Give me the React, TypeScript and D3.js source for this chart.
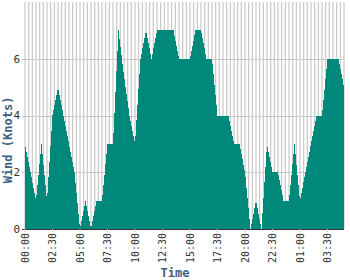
import React from "react";
import * as d3 from "d3";

// Wind speed (knots), sampled every 30 minutes starting 00:00
const values: number[] = [
  3, 2, 1, 3, 1, 4, 5, 4, 3, 2, 0, 1, 0, 1, 1, 3, 3, 7, 5.4, 4,
  3, 6, 7, 6, 7, 7, 7, 7, 6, 6, 6, 7, 7, 6, 6, 4, 4, 4, 3, 3,
  2, 0, 1, 0, 3, 2, 2, 1, 1, 3, 1, 2, 3, 4, 4, 6, 6, 6, 5,
];
const stepMinutes = 30;
const gridMinutes = 20;
const tickLabels = ["00:00", "02:30", "05:00", "07:30", "10:00", "12:30", "15:00", "17:30", "20:00", "22:30", "01:00", "03:30"];
const tickEveryMinutes = 150;
const yTicks = [0, 2, 4, 6];
const yLabel = "Wind (Knots)";
const xLabel = "Time";

const W = 350;
const H = 280;
const M = { left: 25, right: 6, top: 2, bottom: 51 };

export default function App() {
  const t0 = new Date(2020, 0, 1, 0, 0).getTime();
  const data = values.map((v, i) => ({ t: new Date(t0 + i * stepMinutes * 60000), v }));
  const tEnd = data[data.length - 1].t;

  const x = d3.scaleTime().domain([data[0].t, tEnd]).range([M.left, W - M.right]);
  const y = d3.scaleLinear().domain([0, 8]).range([H - M.bottom, M.top]);

  const area = d3
    .area<{ t: Date; v: number }>()
    .x((d) => x(d.t))
    .y0(y(0))
    .y1((d) => y(d.v));

  const totalMin = (tEnd.getTime() - t0) / 60000;
  const gridTimes = d3.range(0, totalMin + 0.001, gridMinutes).map((m) => new Date(t0 + m * 60000));
  const tickTimes = tickLabels.map((_, i) => new Date(t0 + i * tickEveryMinutes * 60000));

  const font = "'DejaVu Sans Mono', monospace";
  const titleColor = "#3d5f85";

  return (
    <svg width={W} height={H} style={{ position: "absolute", left: 0, top: 0, background: "#fff" }}>
      <rect x={0} y={0} width={W} height={H} fill="#fff" />
      {gridTimes.map((g, i) => (
        <line key={"g" + i} x1={x(g)} x2={x(g)} y1={y(8)} y2={y(0)} stroke="#c8c8c8" strokeWidth={1.2} />
      ))}
      {yTicks.map((v) => (
        <line
          key={"h" + v}
          x1={M.left - 3}
          x2={W - M.right}
          y1={Math.round(y(v)) + 0.5}
          y2={Math.round(y(v)) + 0.5}
          stroke={v === 0 ? "#333" : "#c8c8c8"}
          strokeWidth={1}
        />
      ))}
      <path d={area(data) || ""} fill="#00897b" shapeRendering="crispEdges" />
      {yTicks.map((v) => (
        <text
          key={"yl" + v}
          x={M.left - 5}
          y={y(v)}
          dy="0.35em"
          textAnchor="end"
          fontFamily={font}
          fontSize={11}
          fill="#333"
        >
          {v}
        </text>
      ))}
      {tickTimes.map((t, i) => (
        <g key={"xt" + i} transform={`translate(${x(t)},${H - M.bottom})`}>
          <line x1={0} x2={0} y1={0} y2={3} stroke="#c8c8c8" />
          <text
            transform="rotate(-90)"
            x={-4}
            y={0}
            dy="0.35em"
            textAnchor="end"
            fontFamily={font}
            fontSize={10}
            fill="#333"
          >
            {tickLabels[i]}
          </text>
        </g>
      ))}
      <text
        transform={`translate(8,140) rotate(-90)`}
        textAnchor="middle"
        dy="0.35em"
        fontFamily={font}
        fontSize={12}
        fontWeight="bold"
        fill={titleColor}
      >
        {yLabel}
      </text>
      <text
        x={175}
        y={277}
        textAnchor="middle"
        fontFamily={font}
        fontSize={12}
        fontWeight="bold"
        fill={titleColor}
      >
        {xLabel}
      </text>
    </svg>
  );
}
